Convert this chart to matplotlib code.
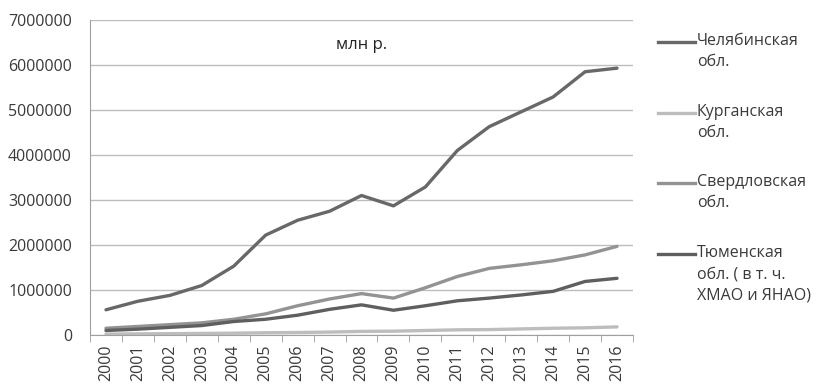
import matplotlib.pyplot as plt
from matplotlib.lines import Line2D
import numpy as np

plt.rcParams['font.family'] = ['Open Sans', 'DejaVu Sans']

years = [str(y) for y in range(2000, 2017)]
chelyabinsk = [560000, 750000, 880000, 1100000, 1530000, 2220000, 2550000, 2750000, 3100000,
               2870000, 3290000, 4100000, 4630000, 4960000, 5290000, 5850000, 5930000]
kurgan = [20000, 25000, 30000, 35000, 40000, 50000, 55000, 65000, 80000,
          85000, 100000, 115000, 120000, 135000, 150000, 160000, 180000]
sverdlovsk = [150000, 190000, 230000, 270000, 350000, 470000, 650000, 800000, 920000,
              820000, 1050000, 1300000, 1480000, 1560000, 1650000, 1780000, 1970000]
tyumen = [100000, 130000, 170000, 210000, 300000, 350000, 440000, 570000, 670000,
          550000, 650000, 760000, 820000, 890000, 970000, 1190000, 1260000]

labels = ['Челябинская\nобл.', 'Курганская\nобл.', 'Свердловская\nобл.',
          'Тюменская\nобл. ( в т. ч.\nХМАО и ЯНАО)']
colors = ['#686868', '#bdbdbd', '#939393', '#5f5f5f']
series = [chelyabinsk, kurgan, sverdlovsk, tyumen]

W, H = 817, 389
fig = plt.figure(figsize=(W / 100, H / 100), dpi=100)
ax = fig.add_axes([90 / W, 1 - 335 / H, 543 / W, 315 / H])

x = np.arange(len(years))
for vals, col in zip(series, colors):
    ax.plot(x, vals, color=col, lw=2.4, solid_capstyle='round')

ax.set_xlim(-0.5, len(years) - 0.5)
ax.set_ylim(0, 7000000)
ax.set_yticks(np.arange(0, 7000001, 1000000))
ax.set_yticklabels([str(v) for v in range(0, 7000001, 1000000)])
ax.set_xticks(x)
ax.set_xticklabels(years, rotation=90)
ax.set_xticks(np.arange(-0.5, len(years)), minor=True)
ax.tick_params(axis='x', which='major', length=0, pad=7, labelsize=11.5, colors='#3a3a3a')
ax.tick_params(axis='x', which='minor', length=5, color='#a0a0a0')
ax.tick_params(axis='y', length=0, pad=13, labelsize=11.5, colors='#3a3a3a')
ax.grid(axis='y', color='#bdbdbd', lw=1)
ax.set_axisbelow(True)
for side in ['top', 'right']:
    ax.spines[side].set_visible(False)
for side in ['left', 'bottom']:
    ax.spines[side].set_color('#a0a0a0')

ax.text(0.50, 0.92, 'млн р.', transform=ax.transAxes, ha='center', va='center',
        fontsize=12, color='#222222')

# legend: handle sits on the first text line of each entry
legend_rows = [42, 113, 183, 254]
for row, lab, col in zip(legend_rows, labels, colors):
    fig.add_artist(Line2D([658 / W, 695 / W], [1 - row / H, 1 - row / H],
                          transform=fig.transFigure, color=col, lw=2.4))
    fig.text(697 / W, 1 - (row - 9) / H, lab, ha='left', va='top', fontsize=11.5,
             color='#3a3a3a', linespacing=1.45)

fig.savefig('out.png', dpi=100)
